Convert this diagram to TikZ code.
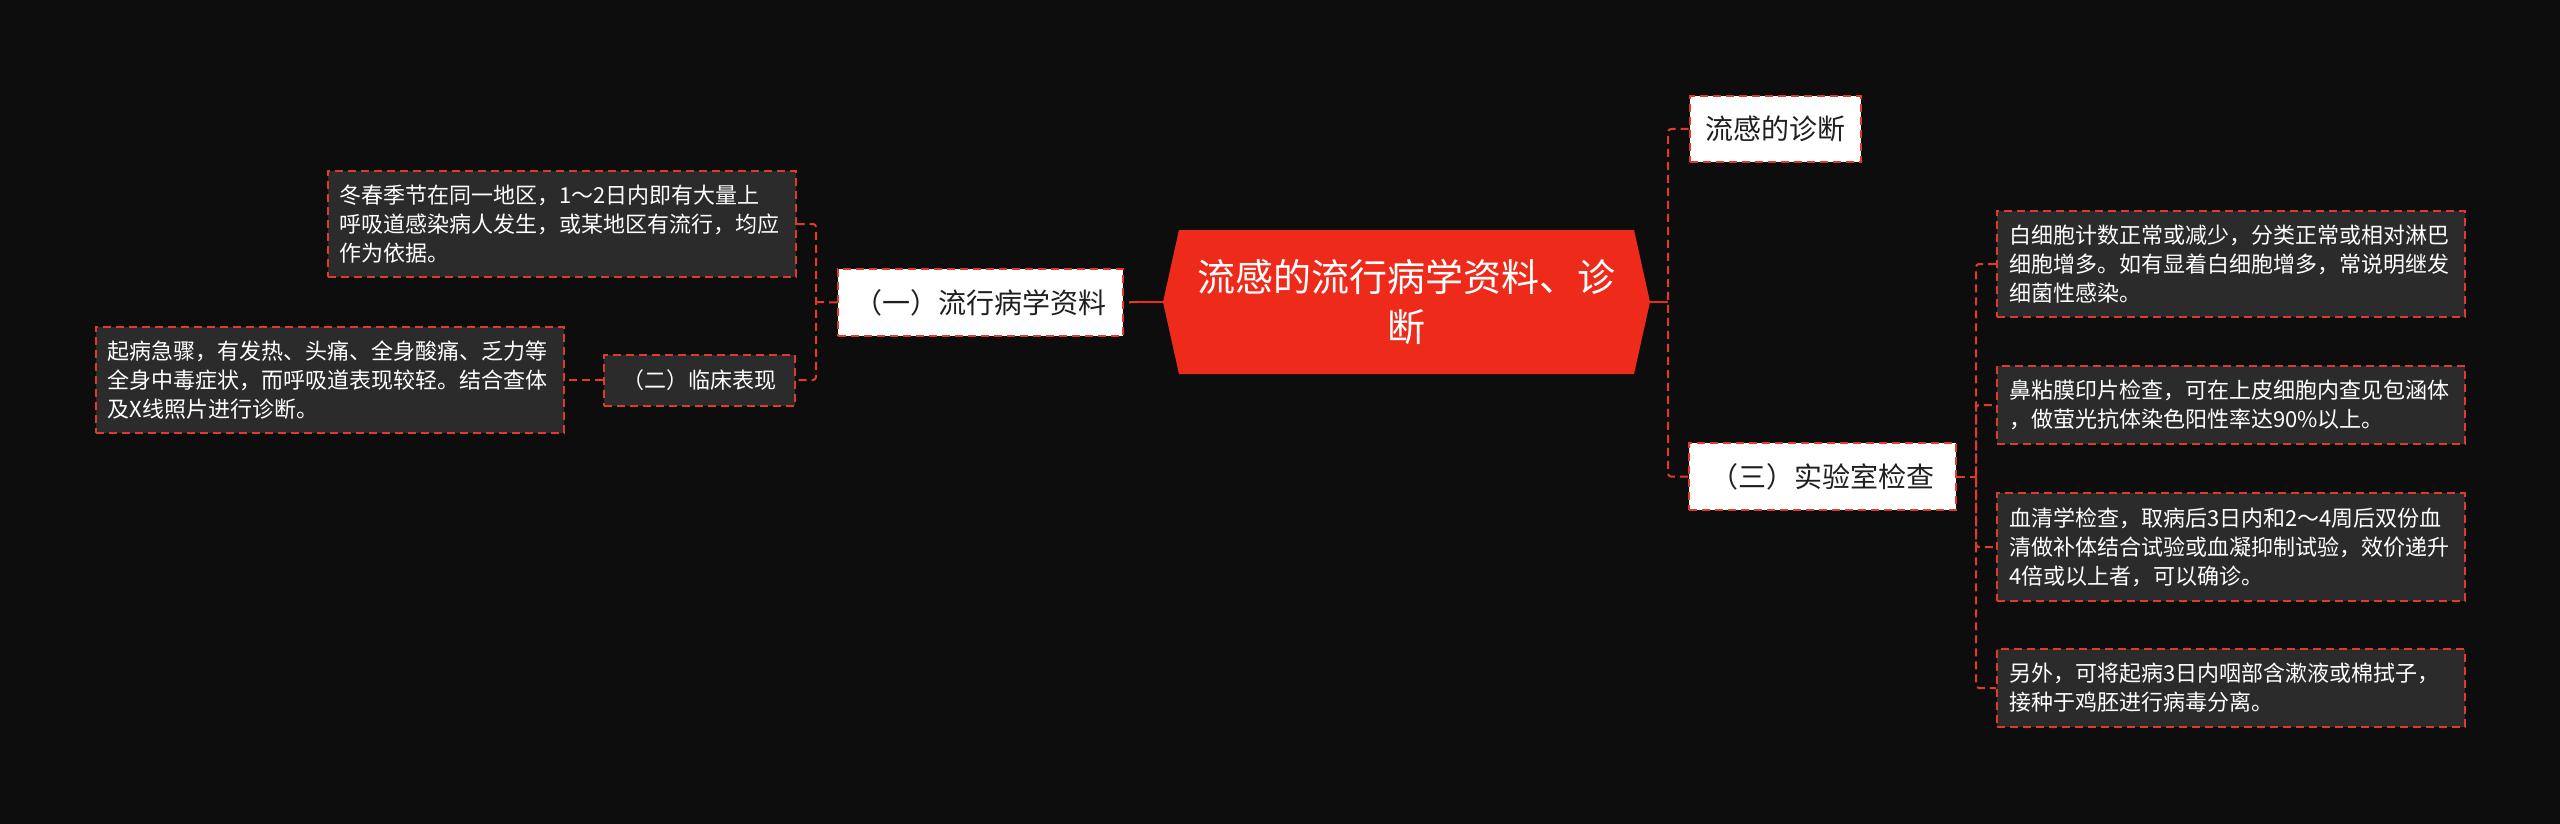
\documentclass[tikz,border=0pt]{standalone}
\usepackage{fontspec}
\newfontfamily\cjk{Noto Sans CJK SC}
\usepackage{tikz}
\usetikzlibrary{shapes.symbols}
\definecolor{bg}{HTML}{0D0D0D}
\definecolor{linered}{HTML}{E03A2C}
\definecolor{rootred}{HTML}{EE2B1B}
\definecolor{leafgray}{HTML}{2B2B2B}
\tikzstyle{conn}=[draw=linered, line width=2pt, dash pattern=on 8pt off 5pt,
                  rounded corners=3pt]
\tikzstyle{stem}=[draw=rootred, line width=2pt]
\tikzstyle{rootnode}=[signal, signal to=west and east, signal pointer angle=155,
                  fill=rootred, text=white, align=center, minimum width=487pt,
                  minimum height=144pt, font=\cjk\fontsize{38}{50}\selectfont]
\tikzstyle{sub}=[rectangle, fill=white, draw=linered, line width=2pt,
                 dash pattern=on 8pt off 5pt, text=black!88, minimum height=67pt,
                 font=\cjk\fontsize{28}{34}\selectfont]
\tikzstyle{darksub}=[rectangle, fill=leafgray, draw=linered, line width=2pt,
                 dash pattern=on 8pt off 5pt, text=white, minimum height=51pt,
                 font=\cjk\fontsize{22}{29}\selectfont]
\tikzstyle{leaf}=[rectangle, fill=leafgray, draw=linered, line width=2pt,
                  dash pattern=on 8pt off 5pt, text=white, align=left,
                  text width=444pt, inner xsep=12pt, inner ysep=14pt,
                  font=\cjk\fontsize{22}{29}\selectfont]

\begin{document}
\begin{tikzpicture}[x=1pt,y=-1pt]
  \fill[bg] (0,0) rectangle (2560,824);
  \path[use as bounding box] (0,0) rectangle (2560,824);
  % centre
  \node[rootnode] (root) at (1406.5,302) {流感的流行病学资料、诊\\断};
  % left branch
  \node[sub, minimum width=285pt] (epi) at (980.5,302.5) {（一）流行病学资料};
  \node[leaf] (season) at (561.5,224)
    {冬春季节在同一地区，1～2日内即有大量上\\呼吸道感染病人发生，或某地区有流行，均应\\作为依据。};
  \node[darksub, minimum width=191pt] (clin) at (699.5,380) {（二）临床表现};
  \node[leaf] (symp) at (329.5,380)
    {起病急骤，有发热、头痛、全身酸痛、乏力等\\全身中毒症状，而呼吸道表现较轻。结合查体\\及X线照片进行诊断。};
  % right branch
  \node[sub, minimum width=171pt, minimum height=66pt] (diag) at (1775,129) {流感的诊断};
  \node[sub, minimum width=267pt] (lab) at (1822.5,476.5) {（三）实验室检查};
  \node[leaf] (blood) at (2231,264)
    {白细胞计数正常或减少，分类正常或相对淋巴\\细胞增多。如有显着白细胞增多，常说明继发\\细菌性感染。};
  \node[leaf] (nasal) at (2231,405)
    {鼻粘膜印片检查，可在上皮细胞内查见包涵体\\，做萤光抗体染色阳性率达90\%以上。};
  \node[leaf] (serum) at (2231,547)
    {血清学检查，取病后3日内和2～4周后双份血\\清做补体结合试验或血凝抑制试验，效价递升\\4倍或以上者，可以确诊。};
  \node[leaf] (virus) at (2231,688)
    {另外，可将起病3日内咽部含漱液或棉拭子，\\接种于鸡胚进行病毒分离。};

  \coordinate (jroot) at (1137,302);
  \coordinate (jl) at (816,302);
  \coordinate (jr) at (1668,302);
  \coordinate (js) at (1976,476.5);

  \path[stem] (root.west) -- (jroot);
  \path[conn] (jroot) -- (epi.east);
  \path[conn] (epi.west) -- (jl);
  \path[conn] (season.east) -| (jl) |- (clin.east);
  \path[conn] (clin.west) -- (symp.east);

  \path[stem] (root.east) -- (jr);
  \path[conn] (diag.west) -| (jr) |- (lab.west);
  \path[conn] (lab.east) -- (js);
  \path[conn] (blood.west) -| (js) |- (virus.west);
  \path[conn] (js) |- (nasal.west);
  \path[conn] (js) |- (serum.west);
\end{tikzpicture}
\end{document}
